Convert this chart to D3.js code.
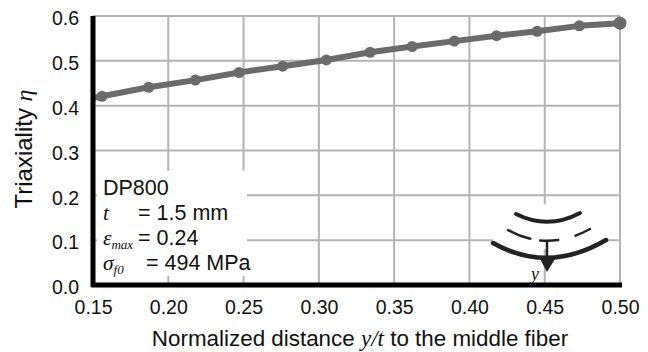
<!DOCTYPE html>
<html>
<head>
<meta charset="utf-8">
<script src="https://cdn.jsdelivr.net/npm/d3@7"></script>
<style>
  body { margin: 0; background: #fff; }
  text { font-family: "Liberation Sans", Arial, sans-serif; fill: #111; }
  .serif { font-family: "Liberation Serif", "Times New Roman", serif; font-style: italic; }
</style>
</head>
<body>
<svg id="chart" width="648" height="352"></svg>
<script>
// normalized distance y/t and triaxiality
const distance = [0.156, 0.187, 0.218, 0.247, 0.276, 0.305, 0.334, 0.362, 0.390, 0.418, 0.445, 0.473, 0.500];
const triaxiality = [0.421, 0.441, 0.457, 0.474, 0.488, 0.502, 0.519, 0.532, 0.544, 0.556, 0.566, 0.578, 0.584];
const xTicks = [0.15, 0.20, 0.25, 0.30, 0.35, 0.40, 0.45, 0.50];
const yTicks = [0.0, 0.1, 0.2, 0.3, 0.4, 0.5, 0.6];

const svg = d3.select('#chart');
const margins = { top: 16, right: 28, bottom: 67, left: 93 };
const width = 648 - margins.left - margins.right;
const height = 352 - margins.top - margins.bottom;

const x = d3.scaleLinear().domain([0.15, 0.50]).range([0, width]);
const y = d3.scaleLinear().domain([0, 0.6]).range([height, 0]);

const g = svg.append('g').attr('transform', `translate(${margins.left},${margins.top})`);

// grid
g.append('g').selectAll('line').data(xTicks.slice(1)).join('line')
    .attr('x1', (d) => x(d)).attr('x2', (d) => x(d))
    .attr('y1', 0).attr('y2', height)
    .attr('stroke', '#b4b4b4').attr('stroke-width', 2);
g.append('g').selectAll('line').data(yTicks.slice(1)).join('line')
    .attr('x1', 0).attr('x2', width)
    .attr('y1', (d) => y(d)).attr('y2', (d) => y(d))
    .attr('stroke', '#b4b4b4').attr('stroke-width', 2);

// white boxes behind annotations
g.append('rect').attr('x', 4).attr('y', y(0.255)).attr('width', 150).attr('height', y(0.02) - y(0.255)).attr('fill', '#fff');
g.append('rect').attr('x', 400).attr('y', y(0.18)).attr('width', 113).attr('height', y(0.08) - y(0.18)).attr('fill', '#fff');

// series
const line = d3.line().x((d, i) => x(distance[i])).y((d) => y(d));
g.append('path').datum(triaxiality)
    .attr('d', line)
    .attr('fill', 'none')
    .attr('stroke', '#6b6b6b')
    .attr('stroke-width', 6)
    .attr('stroke-linejoin', 'round');
// line runs in from the axis
g.append('line')
    .attr('x1', x(0.15)).attr('y1', y(0.417))
    .attr('x2', x(distance[0])).attr('y2', y(triaxiality[0]))
    .attr('stroke', '#6b6b6b').attr('stroke-width', 6);
g.append('g').selectAll('circle').data(triaxiality).join('circle')
    .attr('cx', (d, i) => x(distance[i]))
    .attr('cy', (d) => y(d))
    .attr('r', (d, i) => i === triaxiality.length - 1 ? 6.5 : 5.5)
    .attr('fill', '#6b6b6b');

// axes
const xAxis = g.append('g').attr('transform', `translate(0,${height})`)
    .call(d3.axisBottom(x).tickValues(xTicks).tickFormat(d3.format('.2f')).tickSize(0).tickPadding(15));
const yAxis = g.append('g')
    .call(d3.axisLeft(y).tickValues(yTicks).tickFormat(d3.format('.1f')).tickSize(0).tickPadding(14));
[xAxis, yAxis].forEach((a) => {
    a.select('.domain').remove();
    a.attr('font-size', 19.5).attr('font-family', '"Liberation Sans", Arial, sans-serif');
    a.selectAll('text').attr('fill', '#111');
});
yAxis.selectAll('text').attr('dy', '0.45em');
g.append('line').attr('x1', 0).attr('x2', 0).attr('y1', 0).attr('y2', height + 2)
    .attr('stroke', '#000').attr('stroke-width', 5);
g.append('line').attr('x1', -2).attr('x2', width + 2).attr('y1', height).attr('y2', height)
    .attr('stroke', '#000').attr('stroke-width', 5);

// axis titles
const xt = svg.append('text').attr('x', 360).attr('y', 346)
    .attr('text-anchor', 'middle').attr('font-size', 22.4);
xt.append('tspan').text('Normalized distance ');
xt.append('tspan').attr('class', 'serif').attr('font-size', 23).text('y/t');
xt.append('tspan').text(' to the middle fiber');

const yt = svg.append('text').attr('transform', 'translate(32,149) rotate(-90)')
    .attr('text-anchor', 'middle').attr('font-size', 24);
yt.append('tspan').text('Triaxiality ');
yt.append('tspan').attr('class', 'serif').attr('font-size', 24).text('η');

// material annotation
const note = g.append('g').attr('transform', 'translate(10,0)').attr('font-size', 21.5);
note.append('text').attr('y', 179).text('DP800');
const n1 = note.append('text').attr('y', 204);
n1.append('tspan').attr('class', 'serif').text('t');
n1.append('tspan').attr('x', 35).text('= 1.5 mm');
const n2 = note.append('text').attr('y', 229);
n2.append('tspan').attr('class', 'serif').text('ε');
n2.append('tspan').attr('class', 'serif').attr('font-style', 'normal').attr('font-size', 13).attr('dy', 4).text('max');
n2.append('tspan').attr('dy', -4).attr('x', 35).text('= 0.24');
const n3 = note.append('text').attr('y', 254);
n3.append('tspan').attr('class', 'serif').text('σ');
n3.append('tspan').attr('class', 'serif').attr('font-style', 'normal').attr('font-size', 13).attr('dy', 4).text('f0');
n3.append('tspan').attr('dy', -4).attr('x', 43).text('= 494 MPa');

// bending sketch
const icon = svg.append('g').attr('fill', 'none').attr('stroke', '#222').attr('stroke-linecap', 'round');
icon.append('path').attr('d', 'M516,214 Q548,230 580,213').attr('stroke-width', 4);
icon.append('path').attr('d', 'M508,230 Q548,252 590,229').attr('stroke-width', 2.5)
    .attr('stroke-dasharray', '24 10 18 18 24');
icon.append('path').attr('d', 'M493,243 Q548,274 606,240').attr('stroke-width', 4.5);
icon.append('line').attr('x1', 547).attr('y1', 241).attr('x2', 547).attr('y2', 262).attr('stroke-width', 2.5);
svg.append('path').attr('d', 'M540,259 L555,259 L547,272 Z').attr('fill', '#222');
svg.append('text').attr('class', 'serif').attr('x', 531).attr('y', 280).attr('font-size', 18).text('y');
</script>
</body>
</html>
